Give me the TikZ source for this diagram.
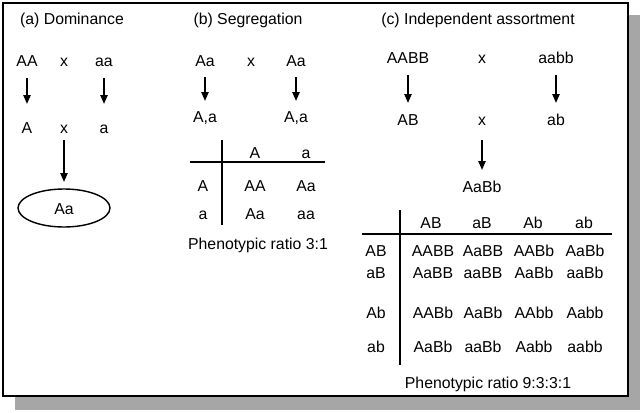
\documentclass[tikz,border=0pt]{standalone}
\usepackage{fontspec}
\setmainfont{Liberation Sans}
\usetikzlibrary{arrows.meta}
\begin{document}
\begin{tikzpicture}[x=0.02cm,y=-0.02cm,
  every node/.style={font=\fontsize{9}{10}\selectfont,inner sep=1pt,text height=1.6ex,text depth=0.3ex},
  arr/.style={-{Triangle[length=5pt,width=4pt]},line width=1pt},
  tl/.style={line width=0.8pt}]
\useasboundingbox (0,0) rectangle (641,412);
\fill[gray!70] (15,15) rectangle (640,410);
\draw[fill=white,line width=0.8pt] (3,3) rectangle (628,396);
% (a)
\node (ta) at (72,18) {(a) Dominance};
\node (a1) at (27,60) {AA}; \node at (64,60) {x}; \node (a2) at (104,60) {aa};
\node (a3) at (27,127) {A}; \node (ax) at (64,127) {x}; \node (a4) at (104,127) {a};
\draw[arr] (27,78) -- (27,104);
\draw[arr] (104,78) -- (104,104);
\draw[arr] (64,140) -- (64,182);
\draw[line width=0.8pt] (64,208) ellipse [x radius=46,y radius=19];
\node at (64,208) {Aa};
% (b)
\node at (248,18) {(b) Segregation};
\node at (205,60) {Aa}; \node at (251,60) {x}; \node at (296,60) {Aa};
\draw[arr] (205,77) -- (205,101);
\draw[arr] (296,77) -- (296,101);
\node at (205,116) {A,a}; \node at (296,116) {A,a};
\draw[tl] (190,162) -- (325,162);
\draw[tl] (222,140) -- (222,225);
\node at (255,152) {A}; \node at (306,152) {a};
\node at (203,185) {A}; \node at (255,185) {AA}; \node at (306,185) {Aa};
\node at (203,213) {a}; \node at (255,213) {Aa}; \node at (306,213) {aa};
\node at (258,243) {Phenotypic ratio 3:1};
% (c)
\node at (478,18) {(c) Independent assortment};
\node at (408,57) {AABB}; \node at (482,57) {x}; \node at (556,57) {aabb};
\draw[arr] (408,75) -- (408,103);
\draw[arr] (556,75) -- (556,103);
\node at (408,119) {AB}; \node at (482,119) {x}; \node at (556,119) {ab};
\draw[arr] (482,140) -- (482,170);
\node at (482,186) {AaBb};
\draw[tl] (362,234) -- (612,234);
\draw[tl] (400,210) -- (400,365);
\foreach \h [count=\i] in {AB,aB,Ab,ab}
  \node at ({380+51*\i},222) {\h};
\foreach \r/\y/\a/\b/\c/\d in {AB/250/AABB/AaBB/AABb/AaBb, aB/272/AaBB/aaBB/AaBb/aaBb, Ab/312/AABb/AaBb/AAbb/Aabb, ab/346/AaBb/aaBb/Aabb/aabb}{
  \node at (376,\y) {\r};
  \node at (433,\y) {\a}; \node at (483,\y) {\b};
  \node at (534,\y) {\c}; \node at (585,\y) {\d};
}
\node at (488,382) {Phenotypic ratio 9:3:3:1};
\end{tikzpicture}
\end{document}
